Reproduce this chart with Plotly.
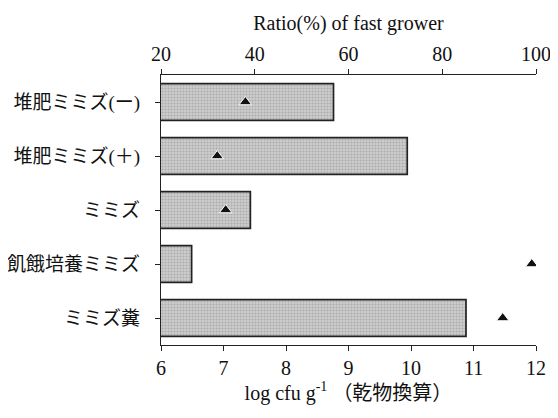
import plotly.graph_objects as go

categories = ["堆肥ミミズ(ー)", "堆肥ミミズ(＋)", "ミミズ", "飢餓培養ミミズ", "ミミズ糞"]
log_cfu = [8.76, 9.94, 7.43, 6.49, 10.88]
fast_ratio = [38.0, 32.0, 33.8, 99.1, 92.9]

bottom_ticks = [6, 7, 8, 9, 10, 11, 12]
top_ticks = [20, 40, 60, 80, 100]

FONT = "Liberation Serif, 'Noto Sans CJK JP', serif"

fig = go.Figure()
fig.add_trace(go.Bar(
    y=categories, x=log_cfu, orientation="h", width=0.68,
    marker=dict(color="#c4c4c4", line=dict(color="#222222", width=1.7),
                pattern=dict(shape=".", fgcolor="#8a8a8a", bgcolor="#cdcdcd", size=3, solidity=0.4)),
    xaxis="x", yaxis="y", showlegend=False,
))
fig.add_trace(go.Scatter(
    y=categories, x=fast_ratio, mode="markers",
    marker=dict(symbol="triangle-up", size=11, color="#111111", line=dict(color="white", width=1)),
    xaxis="x2", yaxis="y", showlegend=False,
))

fig.update_layout(
    width=550, height=410,
    margin=dict(l=153, r=22, t=67, b=73, autoexpand=False),
    paper_bgcolor="white", plot_bgcolor="white",
    font=dict(family=FONT, color="#111111", size=18),
    xaxis=dict(range=[6, 12], tickvals=bottom_ticks, showline=True, linecolor="#222", linewidth=1.3,
               ticks="outside", ticklen=5, tickcolor="#222", showgrid=False, zeroline=False,
               automargin=False, tickfont=dict(size=20),
               title=dict(text="log cfu g<sup>-1</sup> （乾物換算）", font=dict(size=20), standoff=2)),
    xaxis2=dict(range=[20, 100], tickvals=top_ticks, overlaying="x", side="top", showline=True,
                linecolor="#222", linewidth=1.3, ticks="outside", ticklen=5, tickcolor="#222",
                showgrid=False, zeroline=False, automargin=False, tickfont=dict(size=20),
                title=dict(text="Ratio(%) of fast grower", font=dict(size=20), standoff=6)),
    yaxis=dict(categoryorder="array", categoryarray=categories[::-1], range=[-0.5, 4.5],
               showline=True, linecolor="#222", linewidth=1.3, ticks="outside", ticklen=5,
               tickcolor="#222", showgrid=False, zeroline=False, automargin=False,
               tickfont=dict(size=19), ticklabelstandoff=11),
)

fig.write_html("out.html")
